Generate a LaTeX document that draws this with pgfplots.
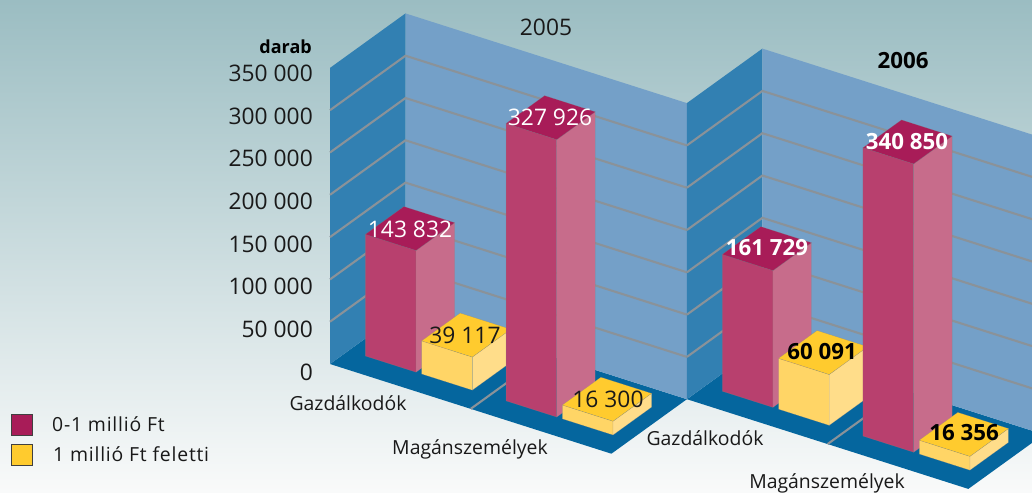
\documentclass[border=0pt]{standalone}
\usepackage{fontspec}
\setmainfont{Open Sans}
\newfontfamily\spaced[LetterSpace=4]{Open Sans}
\usepackage{pgfplots}
\pgfplotsset{compat=1.18}
\definecolor{bgT}{RGB}{155,189,194}
\definecolor{bgM}{RGB}{205,221,225}
\definecolor{bgB}{RGB}{249,250,250}
\definecolor{wallS}{RGB}{50,128,178}
\definecolor{wallB}{RGB}{116,160,200}
\definecolor{floorC}{RGB}{5,102,158}
\definecolor{gridC}{RGB}{138,146,153}
\definecolor{redF}{RGB}{184,64,110}
\definecolor{redS}{RGB}{199,108,139}
\definecolor{redT}{RGB}{168,28,88}
\definecolor{yelF}{RGB}{255,213,102}
\definecolor{yelS}{RGB}{255,221,138}
\definecolor{yelT}{RGB}{255,203,46}
% one cuboid: x0 x1 y0 y1 height colourprefix
\newcommand{\cuboid}[6]{%
  \addplot3[fill=#6F,draw=gray,draw opacity=.45,line width=.35pt,mark=none] coordinates {(#1,#3,0)(#2,#3,0)(#2,#3,#5)(#1,#3,#5)} -- cycle;
  \addplot3[fill=#6S,draw=gray,draw opacity=.45,line width=.35pt,mark=none] coordinates {(#2,#3,0)(#2,#4,0)(#2,#4,#5)(#2,#3,#5)} -- cycle;
  \addplot3[fill=#6T,draw=gray,draw opacity=.45,line width=.35pt,mark=none] coordinates {(#1,#3,#5)(#2,#3,#5)(#2,#4,#5)(#1,#4,#5)} -- cycle;
}
% walls, floor and grid of one panel whose corner is at (#1,#2)
\newcommand{\panel}[4]{%
  \addplot3[fill=floorC,draw=none,mark=none] coordinates {(#1,#2,0)(#3,#2,0)(#3,#4,0)(#1,#4,0)} -- cycle;
  \addplot3[fill=wallS,draw=none,mark=none] coordinates {(#1,#2,0)(#1,#4,0)(#1,#4,350)(#1,#2,350)} -- cycle;
  \addplot3[fill=wallB,draw=none,mark=none] coordinates {(#1,#4,0)(#3,#4,0)(#3,#4,350)(#1,#4,350)} -- cycle;
  \pgfplotsinvokeforeach{50,100,150,200,250,300}{
    \addplot3[gridC,line width=2.1pt,mark=none] coordinates {(#1,#2,##1)(#1,#4,##1)(#3,#4,##1)};
  }
}
\begin{document}
\begin{tikzpicture}[x=1pt,y=-1pt]
\path[use as bounding box] (0,0) rectangle (1032,492);
\clip (0,0) rectangle (1032,492);
\shade[top color=bgT,middle color=bgM,bottom color=bgB] (0,0) rectangle (1032,492);
\begin{axis}[
  at={(330pt,-364pt)},anchor=origin,hide axis,clip=false,
  x={(281.4pt,-89.7pt)},y={(75.5pt,54.5pt)},z={(0pt,0.846pt)},
  xmin=0,xmax=2,ymin=0,ymax=2,zmin=0,zmax=350]
% 2005
\panel{0}{0}{1}{1}
\addplot3[gridC,line width=2.1pt,mark=none] coordinates {(0.5,0,0)(0.5,1,0)};
\cuboid{0.06}{0.24}{0.245}{0.755}{143.832}{red}
\cuboid{0.26}{0.44}{0.245}{0.755}{39.117}{yel}
\cuboid{0.56}{0.74}{0.245}{0.755}{327.926}{red}
\cuboid{0.76}{0.94}{0.245}{0.755}{16.300}{yel}
% 2006
\panel{1}{1}{2}{2}
\addplot3[gridC,line width=2.1pt,mark=none] coordinates {(1.5,1,0)(1.5,2,0)};
\cuboid{1.06}{1.24}{1.245}{1.755}{161.729}{red}
\cuboid{1.26}{1.44}{1.245}{1.755}{60.091}{yel}
\cuboid{1.56}{1.74}{1.245}{1.755}{340.850}{red}
\cuboid{1.76}{1.94}{1.245}{1.755}{16.356}{yel}
\end{axis}
% value axis
\begin{axis}[
  at={(315pt,-372pt)},anchor=south west,scale only axis,width=1pt,height=298.5pt,
  hide x axis,axis y line*=left,y axis line style={draw=none},
  xmin=0,xmax=1,ymin=0,ymax=350000,
  ytick={0,50000,100000,150000,200000,250000,300000,350000},
  scaled y ticks=false,
  major tick length=0pt,
  yticklabel style={font=\fontsize{22.8}{26}\selectfont,text=black!90,inner sep=0pt,xshift=-2pt,
    /pgf/number format/assume math mode=true,/pgf/number format/1000 sep={\ },/pgf/number format/fixed}]
\addplot[draw=none] coordinates {(0,0)(1,350000)};
\end{axis}
\def\fs{\fontsize{22.8}{26}\selectfont}
\def\fb{\fontsize{22.3}{26}\selectfont\bfseries}
\node[anchor=east,inner sep=0pt,font=\fontsize{18}{22}\selectfont\bfseries] at (312,47) {darab};
\node[font=\fs,text=black!90] at (546,27) {2005};
\node[font=\fb] at (903,61) {2006};
\node[font=\fs,text=white] at (410,229) {143 832};
\node[font=\fs,text=black!90] at (465,335) {39 117};
\node[font=\fs,text=white] at (550,117) {327 926};
\node[font=\fs,text=black!90] at (608,399) {16 300};
\node[font=\fb,text=white] at (767,248) {161 729};
\node[font=\fb] at (822,352) {60 091};
\node[font=\fb,text=white] at (907,142) {340 850};
\node[font=\fb] at (964,433) {16 356};
\def\fl{\fontsize{19.4}{22}\selectfont}
\node[font=\fl,text=black!90] at (348,403) {Gazdálkodók};
\node[font=\fl,text=black!90] at (470,449) {Magánszemélyek};
\node[font=\fl,text=black!90] at (705,438) {Gazdálkodók};
\node[font=\fl,text=black!90] at (827,483) {Magánszemélyek};
\draw[black!75,line width=.8pt,fill=redT] (11.5,414.5) rectangle (32.5,435.5);
\draw[black!75,line width=.8pt,fill=yelT] (11.5,444.5) rectangle (32.5,465.5);
\node[anchor=west,inner sep=0pt,font=\fl\spaced,text=black!90] at (52,424) {0-1 millió Ft};
\node[anchor=west,inner sep=0pt,font=\fl\spaced,text=black!90] at (53,454) {1 millió Ft feletti};
\end{tikzpicture}
\end{document}
